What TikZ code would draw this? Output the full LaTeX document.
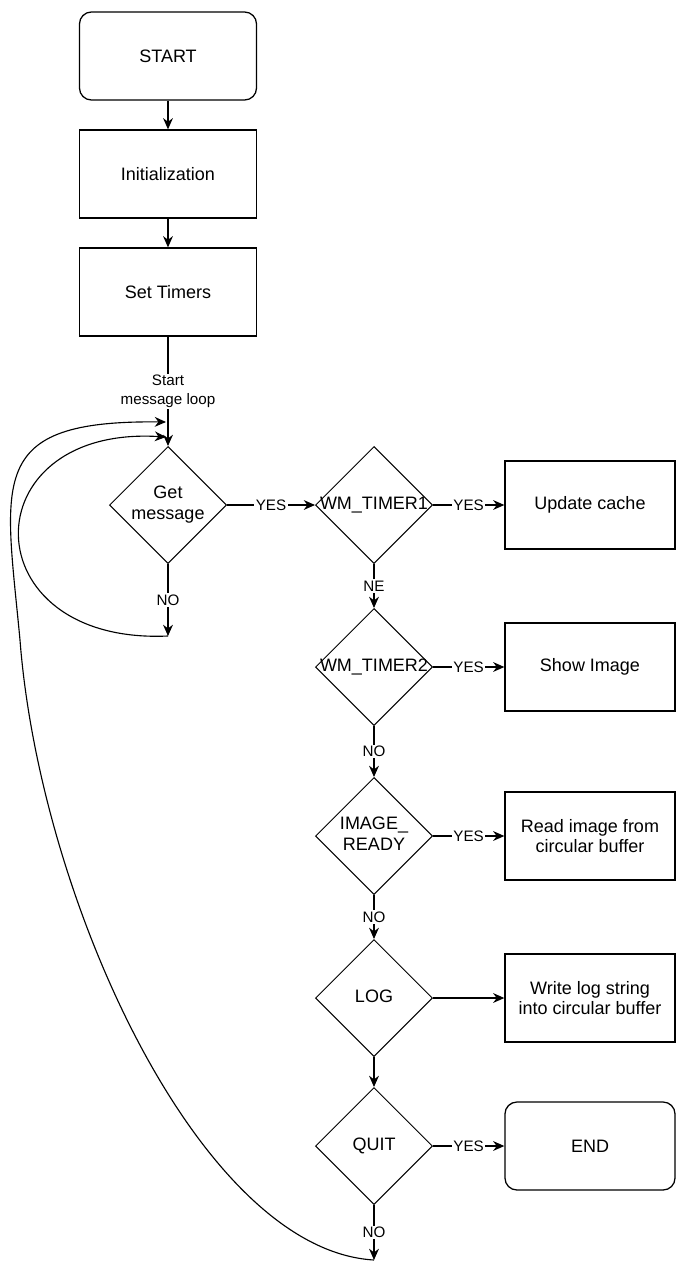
\documentclass[tikz,border=0pt]{standalone}
\usepackage{fontspec}
\setmainfont{Liberation Sans}
\usetikzlibrary{shapes.geometric}
\usetikzlibrary{arrows.meta}

\newcommand{\dtext}[1]{\makebox[0pt]{\begin{tabular}{@{}c@{}}#1\end{tabular}}}

\tikzset{
    boxfont/.style={font=\fontsize{12.8}{14.6}\selectfont},
    term/.style={draw, rectangle, rounded corners=0.3cm, line width=0.9pt, minimum width=4.425cm, minimum height=2.2cm, align=center, boxfont},
    proc/.style={draw, rectangle, line width=0.9pt, minimum width=4.425cm, minimum height=2.2cm, align=center, boxfont},
    side/.style={proc, minimum width=4.25cm},
    dec/.style={draw, diamond, line width=0.7pt, minimum width=2.925cm, minimum height=2.925cm, inner sep=0pt, boxfont},
    flow/.style={line width=0.8pt, -{Stealth[length=8pt,width=7pt]}},
    lbl/.style={fill=white, inner sep=1pt, align=center, font=\fontsize{10.8}{13.5}\selectfont}
}

\begin{document}
\begin{tikzpicture}[x=0.025cm, y=-0.025cm]
        \useasboundingbox (0,0) rectangle (676,1263);
        \node[term] (start) at (168,56) {START};
        \node[proc] (init) at (168,174) {Initialization};
        \node[proc] (timers) at (168,292) {Set Timers};
        \node[dec] (getmsg) at (168,505) {\dtext{Get\\message}};
        \node[dec] (timer1) at (374,505) {\dtext{WM\_TIMER1}};
        \node[dec] (timer2) at (374,667) {\dtext{WM\_TIMER2}};
        \node[dec] (imgready) at (374,836) {\dtext{IMAGE\_\\READY}};
        \node[dec] (log) at (374,998) {\dtext{LOG}};
        \node[dec] (quit) at (374,1146) {\dtext{QUIT}};
        \node[side] (cache) at (590,505) {Update cache};
        \node[side] (show) at (590,667) {Show Image};
        \node[side] (readimg) at (590,836) {Read image from\\circular buffer};
        \node[side] (writelog) at (590,998) {Write log string\\into circular buffer};
        \node[term, minimum width=4.25cm] (end) at (590,1146) {END};
        \coordinate (msgno) at (168,636);
        \coordinate (quitno) at (374,1260);
        \coordinate (loopa) at (166,422);
        \coordinate (loopb) at (166,437);
        \coordinate (bend) at (20,640);
        \draw[flow] (start) -- (init);
        \draw[flow] (init) -- (timers);
        \draw[flow] (timers) -- node[lbl] {Start\\message loop} (getmsg);
        \draw[flow] (getmsg) -- node[lbl] {NO} (msgno);
        \draw[flow] (getmsg) -- node[lbl] {YES} (timer1);
        \draw[flow] (timer1) -- node[lbl] {YES} (cache);
        \draw[flow] (timer1) -- node[lbl] {NE} (timer2);
        \draw[flow] (timer2) -- node[lbl] {YES} (show);
        \draw[flow] (timer2) -- node[lbl] {NO} (imgready);
        \draw[flow] (imgready) -- node[lbl] {YES} (readimg);
        \draw[flow] (imgready) -- node[lbl] {NO} (log);
        \draw[flow] (log) -- (writelog);
        \draw[flow] (log) -- (quit);
        \draw[flow] (quit) -- node[lbl] {YES} (end);
        \draw[flow] (quit) -- node[lbl] {NO} (quitno);
        \draw[flow] (msgno) .. controls (-30,645) and (-30,425) .. (loopb);
        \draw[flow] (quitno) .. controls (200,1250) and (40,900) .. (bend) .. controls (5,480) and (-15,420) .. (loopa);
\end{tikzpicture}
\end{document}
